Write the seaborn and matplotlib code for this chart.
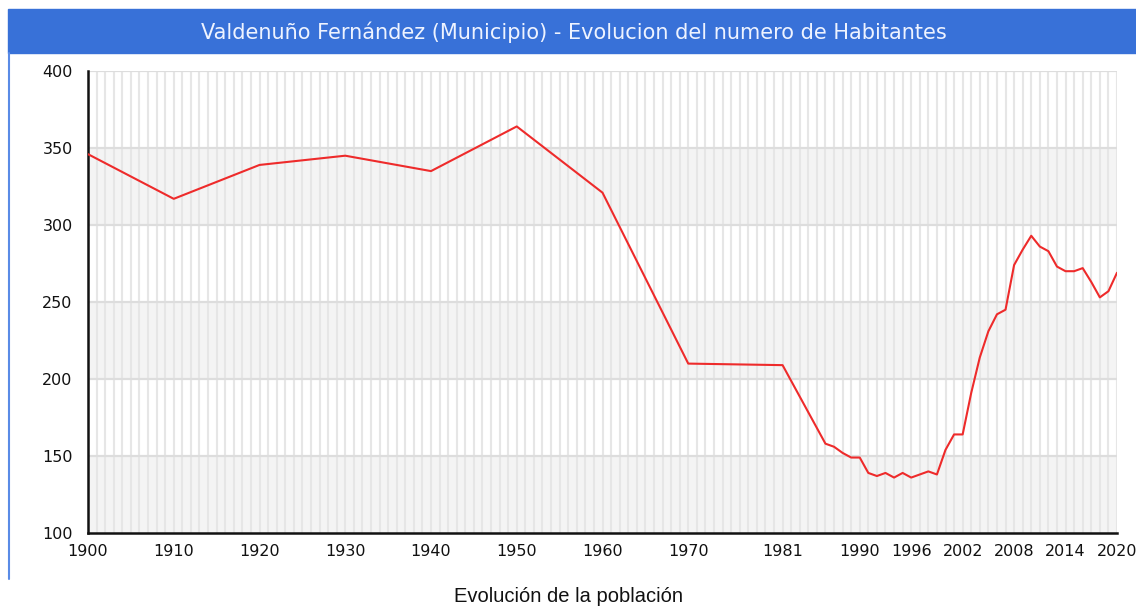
import matplotlib
matplotlib.use("Agg")
import matplotlib.pyplot as plt
import seaborn as sns
import pandas as pd
from matplotlib.patches import Rectangle
from matplotlib.lines import Line2D

# Population values
years = [1900, 1910, 1920, 1930, 1940, 1950, 1960, 1970, 1981,
         1986, 1987, 1988, 1989, 1990, 1991, 1992, 1993, 1994, 1995,
         1996, 1997, 1998, 1999, 2000, 2001, 2002, 2003, 2004, 2005,
         2006, 2007, 2008, 2009, 2010, 2011, 2012, 2013, 2014, 2015,
         2016, 2017, 2018, 2019, 2020]
habitantes = [346, 317, 339, 345, 335, 364, 321, 210, 209,
              158, 156, 152, 149, 149, 139, 137, 139, 136, 139,
              136, 138, 140, 138, 154, 164, 164, 191, 214, 231,
              242, 245, 274, 284, 293, 286, 283, 273, 270, 270,
              272, 263, 253, 257, 269]
tick_years = [1900, 1910, 1920, 1930, 1940, 1950, 1960, 1970, 1981,
              1990, 1996, 2002, 2008, 2014, 2020]

title = "Valdenuño Fernández (Municipio) - Evolucion del numero de Habitantes"
caption = "Evolución de la población"

df = pd.DataFrame({"Año": years, "Habitantes": habitantes})

sns.set_style("white")
plt.rcParams['font.family'] = ['DejaVu Sans']

fig = plt.figure(figsize=(11.36, 6.10), dpi=100)
ax = fig.add_axes([88 / 1136, 1 - 533 / 610, (1117 - 88) / 1136, (533 - 71) / 610])

# alternating horizontal bands (grey on 100-150, 200-250, 300-350)
for lo in range(100, 400, 100):
    ax.axhspan(lo, lo + 50, color='#F4F4F4', zorder=0, lw=0)

# vertical grid every year, horizontal every 50
for yr in range(1901, 2021):
    ax.axvline(yr, color='#E6E6E6', lw=1.5, zorder=1)
for v in range(150, 401, 50):
    ax.axhline(v, color='#DDDDDD', lw=1.6, zorder=1)

sns.lineplot(data=df, x="Año", y="Habitantes", color='#EE2B2B', lw=1.5, ax=ax, zorder=3)

ax.set_xlim(1900, 2020)
ax.set_ylim(100, 400)
ax.set_xlabel("")
ax.set_ylabel("")
ax.set_xticks(tick_years)
ax.set_xticks(range(1900, 2021), minor=True)
ax.set_yticks(range(100, 401, 50))
ax.set_yticks(range(100, 401, 10), minor=True)
ax.tick_params(axis='both', which='both', direction='in', color='#111111', width=1.5,
               labelsize=11.5, labelcolor='#111111')
ax.tick_params(axis='x', which='both', length=6, pad=8)
ax.tick_params(axis='y', which='major', length=9, pad=11)
ax.tick_params(axis='y', which='minor', length=6)

for s in ['top', 'right']:
    ax.spines[s].set_visible(False)
for s in ['left', 'bottom']:
    ax.spines[s].set_color('#111111')
    ax.spines[s].set_linewidth(1.8)

# blue frame and title bar
fig.patches.append(Rectangle((8 / 1136, 1 - 53 / 610), 1 - 8 / 1136, 44 / 610,
                             transform=fig.transFigure, color='#3871D8', zorder=0))
fig.lines.append(Line2D([9 / 1136, 9 / 1136], [1 - 53 / 610, 1 - 579 / 610],
                        transform=fig.transFigure, color='#5A8BE6', lw=1.5))
fig.text(574 / 1136, 1 - 32 / 610, title, color='#EEF3FF', fontsize=15,
         ha='center', va='center')
fig.text(568 / 1136, 1 - 597 / 610, caption, color='#111111', fontsize=14.5,
         family='Liberation Sans', ha='center', va='center')

fig.savefig("out.png", dpi=100)
